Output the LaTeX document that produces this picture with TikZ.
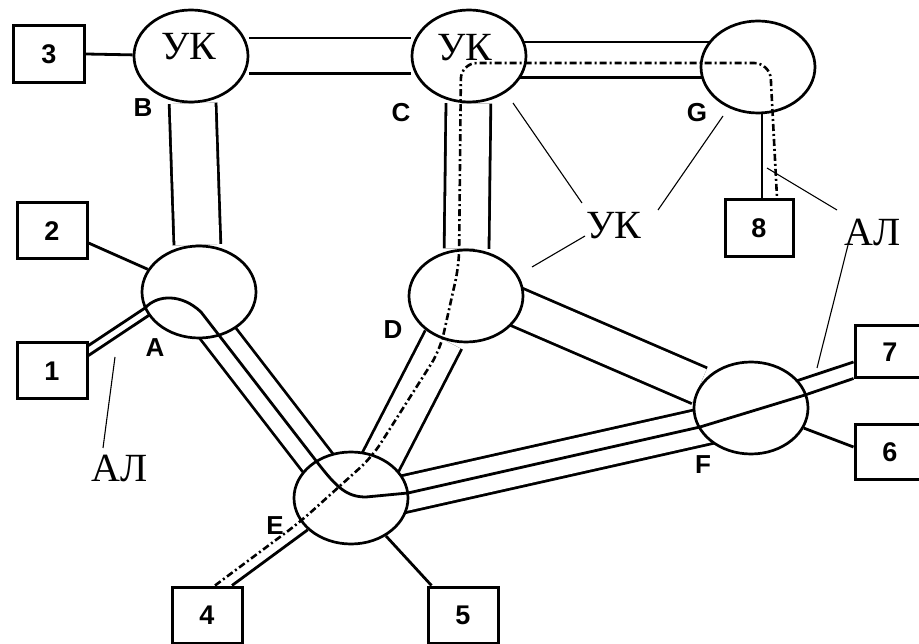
\documentclass[tikz,border=0pt]{standalone}
\usepackage{fontspec}
\setmainfont{Liberation Serif}
\newfontfamily\labfont{Liberation Sans}
\usetikzlibrary{shapes.geometric,calc,backgrounds}
\begin{document}
\begin{tikzpicture}[x=1pt,y=-1pt,
 ell/.style={ellipse, draw, line width=2.7pt, fill=white, minimum width=114pt, minimum height=92pt, inner sep=0pt},
 box/.style={rectangle, draw, line width=3pt, fill=white, minimum width=70pt, minimum height=56pt, inner sep=0pt, font=\labfont\fontsize{27}{27}\selectfont\bfseries},
 ltr/.style={font=\labfont\fontsize{26}{26}\selectfont\bfseries, inner sep=0pt},
 uk/.style={font=\fontsize{40}{40}\selectfont, inner sep=0pt},
 pipe/.style={line width=2.8pt, double=white, double distance=#1},
 wire/.style={line width=2.8pt},
 ptr/.style={line width=1.1pt},
 dashdot/.style={line width=2.6pt, dash pattern=on 7pt off 3pt on 2pt off 3pt}
]
\useasboundingbox (0,0) rectangle (919,644);
% switching nodes
\node[ell] (B) at (191,56) {};
\node[ell] (C) at (469,56) {};
\node[ell] (G) at (758,67) {};
\node[ell] (A) at (199,292) {};
\node[ell] (D) at (466,296) {};
\node[ell] (E) at (351,498) {};
\node[ell] (F) at (751,408) {};
% terminals
\node[box, minimum width=71pt, minimum height=57pt] (n3) at (49,54) {3};
\node[box] (n2) at (52,231) {2};
\node[box] (n1) at (52,371) {1};
\node[box] (n4) at (207,615) {4};
\node[box] (n5) at (463,615) {5};
\node[box, minimum width=68pt, minimum height=57pt] (n8) at (759,228) {8};
\node[box, minimum height=52pt] (n7) at (890,352) {7};
\node[box, minimum height=54pt] (n6) at (890,452) {6};
\begin{scope}[on background layer]
 % trunks
 \draw[pipe=33pt] (B) -- (C);
 \draw[pipe=44pt] (B) -- (A);
 \draw[pipe=33pt] ($(C)+(0,4)$) -- ($(G)+(0,-7)$);
 \draw[pipe=42pt] (C) -- (D);
 \draw[pipe=32pt] ($(A)+(-13,0)$) -- ($(E)+(-6,0)$);
 \draw[pipe=38pt] (D) -- ($(E)+(11,0)$);
 \draw[pipe=36pt] ($(D)+(0,-11)$) -- (F);
 \draw[pipe=34pt] ($(E)+(0,8)$) -- ($(F)+(0,8)$);
 % subscriber lines
 \draw[wire] (n3.east) -- (B);
 \draw[wire] ($(n2.east)+(0,12)$) -- (A);
 \draw[wire] ($(n1.north east)+(0,14)$) -- ($(A)+(0,-10)$);
 \draw[wire] (E) -- ($(n4.north)+(25,0)$);
 \draw[wire] (E) -- ($(n5.north west)+(5,0)$);
 \draw[wire] ($(G)+(4,0)$) -- ($(n8.north)+(3,0)$);
 \draw[wire] ($(F)+(0,-12)$) -- ($(n7.west)+(0,10)$);
 \draw[wire] (F) -- ($(n6.west)+(0,-5)$);
\end{scope}
% route of subscriber line 1 -> 7
\draw[wire, line join=round] ($(n1.north east)+(0,4)$) -- (145,308)
  .. controls (158,294) and (182,294) .. (201,312) -- (317,462)
  .. controls (337,488) and (347,497) .. (366,497) -- (408,493) -- (700,427)
  -- (805,395) -- ($(n7.south west)+(0,-1)$);
% route 4 -> 8
\draw[dashdot, rounded corners=16pt] ($(n4.north)+(8,0)$) -- (300,522) -- (372,457)
  -- (440,350) -- (459,265) -- (461,63) -- (770,63) -- ($(n8.north)+(18,0)$);
% node letters
\node[ltr] (lB) at (143,108) {B};
\node[ltr] (lC) at (401,113) {C};
\node[ltr] (lG) at (697,113) {G};
\node[ltr] (lA) at (155,348) {A};
\node[ltr] (lD) at (393,330) {D};
\node[ltr] (lE) at (275,526) {E};
\node[ltr] (lF) at (703,465) {F};
% captions
\node[uk] (ukB) at (189,47) {УК};
\node[uk] (ukC) at (465,48) {УК};
\node[uk] (ukM) at (614,226) {УК};
\node[uk] (alR) at (873,232) {АЛ};
\node[uk] (alL) at (120,468) {АЛ};
% pointers
\coordinate (sC) at (582,203); \coordinate (pC) at (513,103);
\coordinate (sG) at (658,210); \coordinate (pG) at (723,116);
\coordinate (sD) at (585,236); \coordinate (pD) at (532,267);
\coordinate (sR1) at (837,210); \coordinate (pR1) at (767,168);
\coordinate (sR2) at (848,245); \coordinate (pR2) at (817,368);
\coordinate (sL) at (103,448); \coordinate (pL) at (115,357);
\draw[ptr] (sC) -- (pC);
\draw[ptr] (sG) -- (pG);
\draw[ptr] (sD) -- (pD);
\draw[ptr] (sR1) -- (pR1);
\draw[ptr] (sR2) -- (pR2);
\draw[ptr] (sL) -- (pL);
\end{tikzpicture}
\end{document}
